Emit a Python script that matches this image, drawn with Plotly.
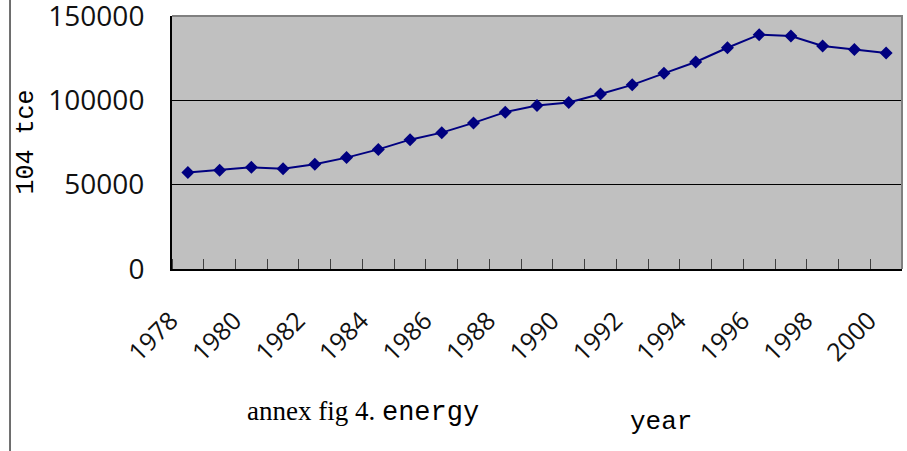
import plotly.graph_objects as go

years = list(range(1978, 2001))
energy = [57144, 58588, 60275, 59447, 62067, 66040, 70904, 76682, 80850, 86632,
          92997, 96934, 98703, 103783, 109170, 115993, 122737, 131176, 138948,
          138173, 132214, 130119, 128000]
y_ticks = [0, 50000, 100000, 150000]
x_labels = list(range(1978, 2001, 2))
boundaries = [y - 0.5 for y in range(1978, 2002)]

fig = go.Figure()
fig.add_trace(go.Scatter(
    x=years, y=energy, mode="lines+markers",
    line=dict(color="#000080", width=2),
    marker=dict(symbol="diamond", size=10, color="#000080"),
    showlegend=False,
))

fig.update_layout(
    width=907, height=451,
    margin=dict(l=172, r=5, t=16, b=182, autoexpand=False),
    paper_bgcolor="white", plot_bgcolor="#C0C0C0",
    font=dict(family="Open Sans", color="black"),
    xaxis=dict(
        range=[1977.5, 2000.5], tickvals=x_labels, ticktext=[str(v) for v in x_labels],
        tickangle=-45, ticks="", showgrid=False, zeroline=False,
        showline=True, linecolor="black", linewidth=2, automargin=False,
        tickfont=dict(size=25, family="Open Sans", color="#111111"),
        ticklabelstandoff=25, ticklabelshift=-17, ticklabeloverflow="allow",
        minor=dict(tickvals=boundaries, ticks="inside", ticklen=10,
                   tickcolor="#404040", tickwidth=1, showgrid=False),
    ),
    yaxis=dict(
        range=[0, 150000], tickvals=y_ticks, ticktext=[str(v) for v in y_ticks],
        showgrid=True, gridcolor="black", gridwidth=1, zeroline=False,
        showline=True, linecolor="black", linewidth=2, ticks="", automargin=False,
        tickfont=dict(size=28, family="Open Sans", color="#111111"),
        ticklabelstandoff=20, ticklabeloverflow="allow",
    ),
    shapes=[
        dict(type="path", xref="x domain", yref="y domain",
             path="M 0 1 L 1 1 L 1 0", line=dict(color="#808080", width=2), layer="above"),
        dict(type="line", xref="paper", yref="paper", x0=-0.2219, x1=-0.2219,
             y0=-0.75, y1=1.07, line=dict(color="#404040", width=1.5)),
    ],
    annotations=[
        dict(text="104 tce", xref="paper", yref="paper", x=-0.2, y=0.5,
             xanchor="center", yanchor="middle",
             textangle=-90, showarrow=False, font=dict(size=25, family="Liberation Mono")),
        dict(text="annex fig 4. <span style=\"font-family:'Liberation Mono'\">energy</span>",
             xref="paper", yref="paper", x=0.1, y=-0.565, xanchor="left", yanchor="middle",
             showarrow=False, font=dict(size=27, family="Liberation Serif")),
        dict(text="year", xref="paper", yref="paper", x=0.670, y=-0.605,
             xanchor="center", yanchor="middle",
             showarrow=False, font=dict(size=26, family="Liberation Mono")),
    ],
)

fig.write_html("out.html")
